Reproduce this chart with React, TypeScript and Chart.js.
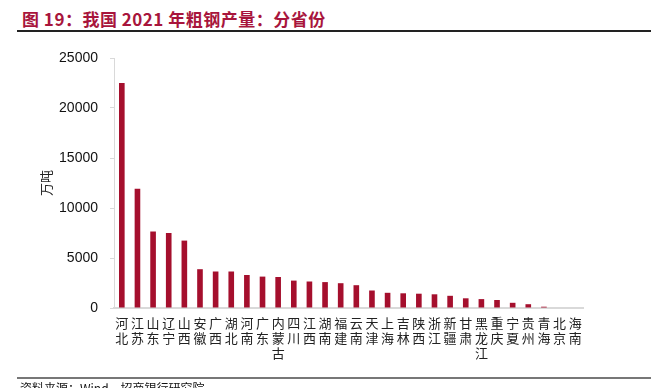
import React, { useEffect, useRef } from "react";
import { Chart, registerables } from "chart.js";

Chart.register(...registerables);

const provinces: string[] = [
  "河北", "江苏", "山东", "辽宁", "山西", "安徽", "广西", "湖北", "河南", "广东",
  "内蒙古", "四川", "江西", "湖南", "福建", "云南", "天津", "上海", "吉林", "陕西",
  "浙江", "新疆", "甘肃", "黑龙江", "重庆", "宁夏", "贵州", "青海", "北京", "海南",
];

const output: number[] = [
  22496, 11925, 7649, 7502, 6740, 3880, 3650, 3650, 3300, 3140,
  3100, 2740, 2650, 2590, 2480, 2280, 1750, 1520, 1470, 1430,
  1370, 1220, 970, 890, 800, 520, 380, 130, 0, 0,
];

const yTicks: number[] = [0, 5000, 10000, 15000, 20000, 25000];

const titleText = "图 19：我国 2021 年粗钢产量：分省份";
const yTitle = "万吨";
const sourceText = "资料来源：Wind，招商银行研究院";

const BAR = "#a50f2d";
const CJK = '"Noto Sans CJK SC", "Noto Sans", sans-serif';

export default function App() {
  const ref = useRef<HTMLCanvasElement | null>(null);

  useEffect(() => {
    document.body.style.margin = "0";
    const canvas = ref.current;
    if (!canvas) return;
    const chart = new Chart(canvas, {
      type: "bar",
      data: {
        labels: provinces.map((p) => p.split("")),
        datasets: [
          {
            data: output,
            backgroundColor: BAR,
            borderWidth: 0,
            barPercentage: 0.36,
            categoryPercentage: 1,
          },
        ],
      },
      options: {
        animation: false,
        responsive: false,
        maintainAspectRatio: false,
        layout: { padding: { left: 0, right: 68, top: 58, bottom: 0 } },
        plugins: { legend: { display: false }, tooltip: { enabled: false } },
        scales: {
          x: {
            grid: { display: false, drawTicks: false },
            border: { display: true, color: "#d9d9d9", width: 2 },
            ticks: {
              color: "#222",
              font: { family: CJK, size: 13, lineHeight: 1.15 },
              padding: 8,
              maxRotation: 0,
              minRotation: 0,
              autoSkip: false,
            },
            afterFit: (s: any) => {
              s.height = 80;
            },
          },
          y: {
            min: 0,
            max: 25000,
            afterBuildTicks: (s: any) => {
              s.ticks = yTicks.map((v) => ({ value: v }));
            },
            grid: {
              display: true,
              drawOnChartArea: false,
              drawTicks: true,
              tickLength: 4,
              color: "#d9d9d9",
            },
            border: { display: true, color: "#d9d9d9", width: 1 },
            ticks: {
              color: "#111",
              font: { family: '"Liberation Sans", Arial, sans-serif', size: 14 },
              padding: 12,
              callback: (v: any) => String(v),
            },
            title: {
              display: true,
              text: yTitle,
              color: "#222",
              font: { family: CJK, size: 13 },
              padding: { top: 38, bottom: 0 },
            },
            afterFit: (s: any) => {
              s.width = 114;
            },
          },
        },
      },
    });
    return () => chart.destroy();
  }, []);

  return (
    <div style={{ position: "relative", width: 651, height: 388, overflow: "hidden", background: "#fff" }}>
      <div
        style={{
          position: "absolute",
          left: 22,
          top: 8,
          fontFamily: CJK,
          fontWeight: "bold",
          fontSize: 17,
          letterSpacing: "0.5px",
          lineHeight: "22px",
          color: "#a8153c",
          whiteSpace: "nowrap",
        }}
      >
        {titleText}
      </div>
      <div style={{ position: "absolute", left: 17, right: 0, top: 30, height: 2, background: "#222" }} />
      <canvas ref={ref} width={651} height={388} style={{ position: "absolute", left: 0, top: 0, width: 651, height: 388 }} />
      <div style={{ position: "absolute", left: 17, right: 0, top: 377, height: 2, background: "#777" }} />
      <div
        style={{
          position: "absolute",
          left: 20,
          top: 380,
          fontFamily: CJK,
          fontSize: 12,
          lineHeight: "16px",
          color: "#111",
          whiteSpace: "nowrap",
        }}
      >
        {sourceText}
      </div>
    </div>
  );
}
